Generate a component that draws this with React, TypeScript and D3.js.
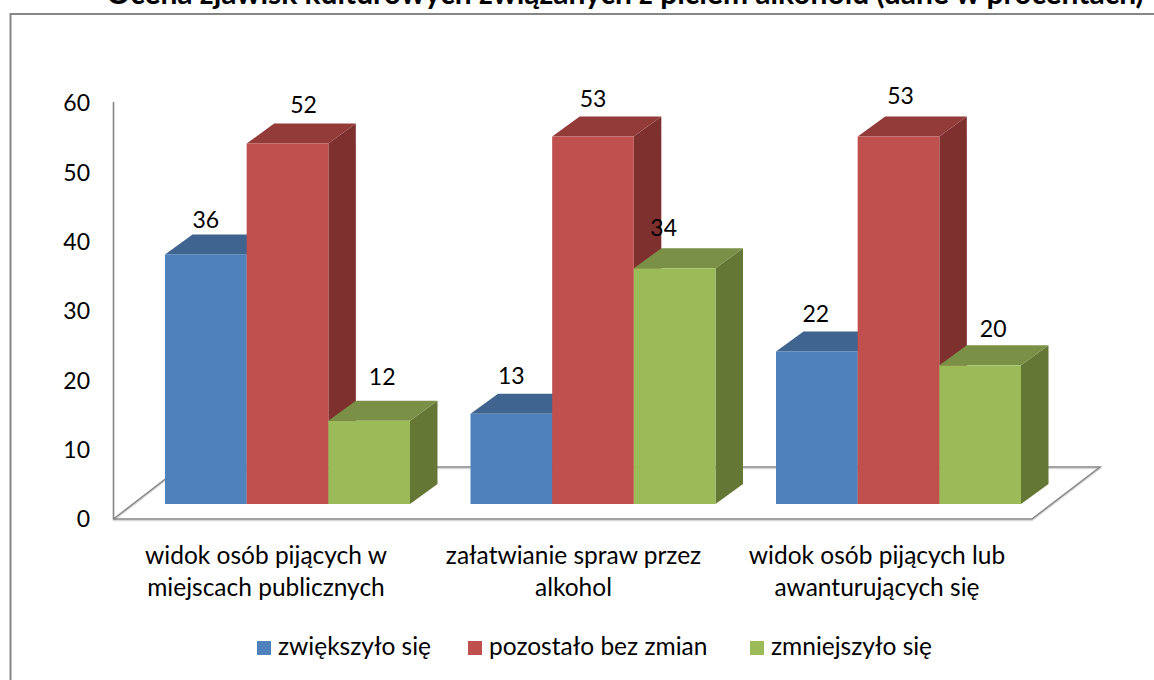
import { useRef, useEffect } from 'react';
import * as d3 from 'd3';

const TITLE = "Ocena zjawisk kulturowych związanych z piciem alkoholu (dane w procentach)";
const CATEGORIES = ["cat1", "cat2", "cat3"];
const CATEGORY_LINES = [
  ["widok osób pijących w", "miejscach publicznych"],
  ["załatwianie spraw przez", "alkohol"],
  ["widok osób pijących lub", "awanturujących się"]
];
const SERIES = ["zwiększyło się", "pozostało bez zmian", "zmniejszyło się"];
const INCREASED = [36, 13, 22];
const UNCHANGED = [52, 53, 53];
const DECREASED = [12, 34, 20];
const VALUES = [INCREASED, UNCHANGED, DECREASED];
const TICKS = [0, 10, 20, 30, 40, 50, 60];

const FRONT = ["#4f81bd", "#c0504d", "#9bbb59"];
const TOP = ["#3f648f", "#933b39", "#7a9046"];
const SIDE = ["#34547a", "#7e302f", "#647735"];

// hand-placed data labels in the original, [dx, dy] per series then category
const LABEL_NUDGE = [
  [[0, 0], [0, -4], [-1, -3]],
  [[16, -4], [0, -4], [2, -7]],
  [[13, -10], [-11, -6], [13, -2]]
];

const FONT = "Lato, 'Open Sans', sans-serif";
const AXIS_COLOR = "#868686";

export default function App() {
  const svgRef = useRef<SVGSVGElement>(null);

  useEffect(() => {
    const svg = d3.select(svgRef.current);
    svg.selectAll("*").remove();

    const depthX = 27.5, depthY = -20;

    const yWall = d3.scaleLinear().domain([0, 60]).range([518, 102]);
    const yBar = d3.scaleLinear().domain([0, 60]).range([504, 88]);
    const x0 = d3.scaleBand().domain(CATEGORIES).range([165, 165 + 305.5 * 3]).paddingInner(0).paddingOuter(0);
    const x1 = d3.scaleBand().domain(SERIES).range([0, 245]);

    svg.append("rect").attr("width", 1154).attr("height", 680).attr("fill", "#fff");

    // Chart frame
    svg.append("path")
      .attr("d", "M10.5,680V14H1154")
      .attr("fill", "none").attr("stroke", AXIS_COLOR).attr("stroke-width", 2);

    svg.append("text")
      .attr("x", 625).attr("y", 4)
      .attr("text-anchor", "middle")
      .style("font-family", FONT).style("font-size", "30px").style("font-weight", 700)
      .attr("fill", "#000")
      .text(TITLE);

    // Floor + wall
    const floor = svg.append("g").attr("fill", "none").attr("stroke-linejoin", "miter");
    const floorPath = "M113.5,102V519H1032L1100,467H181L113.5,519";
    floor.append("path").attr("d", floorPath).attr("stroke", "#d9d9d9").attr("stroke-width", 1.5).attr("transform", "translate(0,1.5)");
    floor.append("path").attr("d", floorPath).attr("stroke", AXIS_COLOR).attr("stroke-width", 1.5);

    // Value axis
    const axis = svg.append("g")
      .attr("transform", "translate(90,1.5)")
      .call(d3.axisLeft(yWall).tickValues(TICKS).tickSize(0).tickPadding(0).tickFormat(d3.format("d")));
    axis.select(".domain").remove();
    axis.selectAll("text")
      .style("font-family", FONT).style("font-size", "23px").attr("fill", "#000");

    // Bars, painted back to front so neighbours overlap as in the original
    CATEGORIES.forEach((cat, c) => {
      SERIES.forEach((s, i) => {
        const v = VALUES[i][c];
        const l = x0(cat)! + x1(s)!;
        const r = l + x1.bandwidth();
        const t = yBar(v);
        const b = yBar(0);
        const g = svg.append("g");
        g.append("path")
          .attr("d", d3.line()([[r, t], [r + depthX, t + depthY], [r + depthX, b + depthY], [r, b]]) + "Z")
          .attr("fill", SIDE[i]);
        g.append("path")
          .attr("d", d3.line()([[l, t], [l + depthX, t + depthY], [r + depthX, t + depthY], [r, t]]) + "Z")
          .attr("fill", TOP[i]);
        g.append("rect")
          .attr("x", l).attr("y", t)
          .attr("width", x1.bandwidth()).attr("height", b - t)
          .attr("fill", FRONT[i]);
      });
    });

    // Value labels
    CATEGORIES.forEach((cat, c) => {
      SERIES.forEach((s, i) => {
        const v = VALUES[i][c];
        const [dx, dy] = LABEL_NUDGE[i][c];
        svg.append("text")
          .attr("x", x0(cat)! + x1(s)! + x1.bandwidth() / 2 + dx)
          .attr("y", yBar(v) + depthY - 6 + dy)
          .attr("text-anchor", "middle")
          .style("font-family", FONT).style("font-size", "23px")
          .attr("fill", "#000")
          .text(v);
      });
    });

    // Category labels
    CATEGORIES.forEach((cat, c) => {
      CATEGORY_LINES[c].forEach((line, j) => {
        svg.append("text")
          .attr("x", x0(cat)! + 101 + (c === 1 ? 2 : c === 2 ? 0 : 0))
          .attr("y", 564 + j * 32)
          .attr("text-anchor", "middle")
          .style("font-family", FONT).style("font-size", "24.5px")
          .attr("fill", "#000")
          .text(line);
      });
    });

    // Legend
    const legendX = d3.scaleOrdinal<string, number>().domain(SERIES).range([257, 468, 750]);
    SERIES.forEach((s, i) => {
      svg.append("rect")
        .attr("x", legendX(s)).attr("y", 641)
        .attr("width", 14).attr("height", 14)
        .attr("fill", FRONT[i]);
      svg.append("text")
        .attr("x", legendX(s) + 21).attr("y", 655)
        .style("font-family", FONT).style("font-size", "24.5px")
        .attr("fill", "#000")
        .text(s);
    });
  }, []);

  return (
    <svg
      ref={svgRef}
      width={1154}
      height={680}
      viewBox="0 0 1154 680"
      style={{ position: "absolute", left: 0, top: 0, display: "block" }}
    />
  );
}
